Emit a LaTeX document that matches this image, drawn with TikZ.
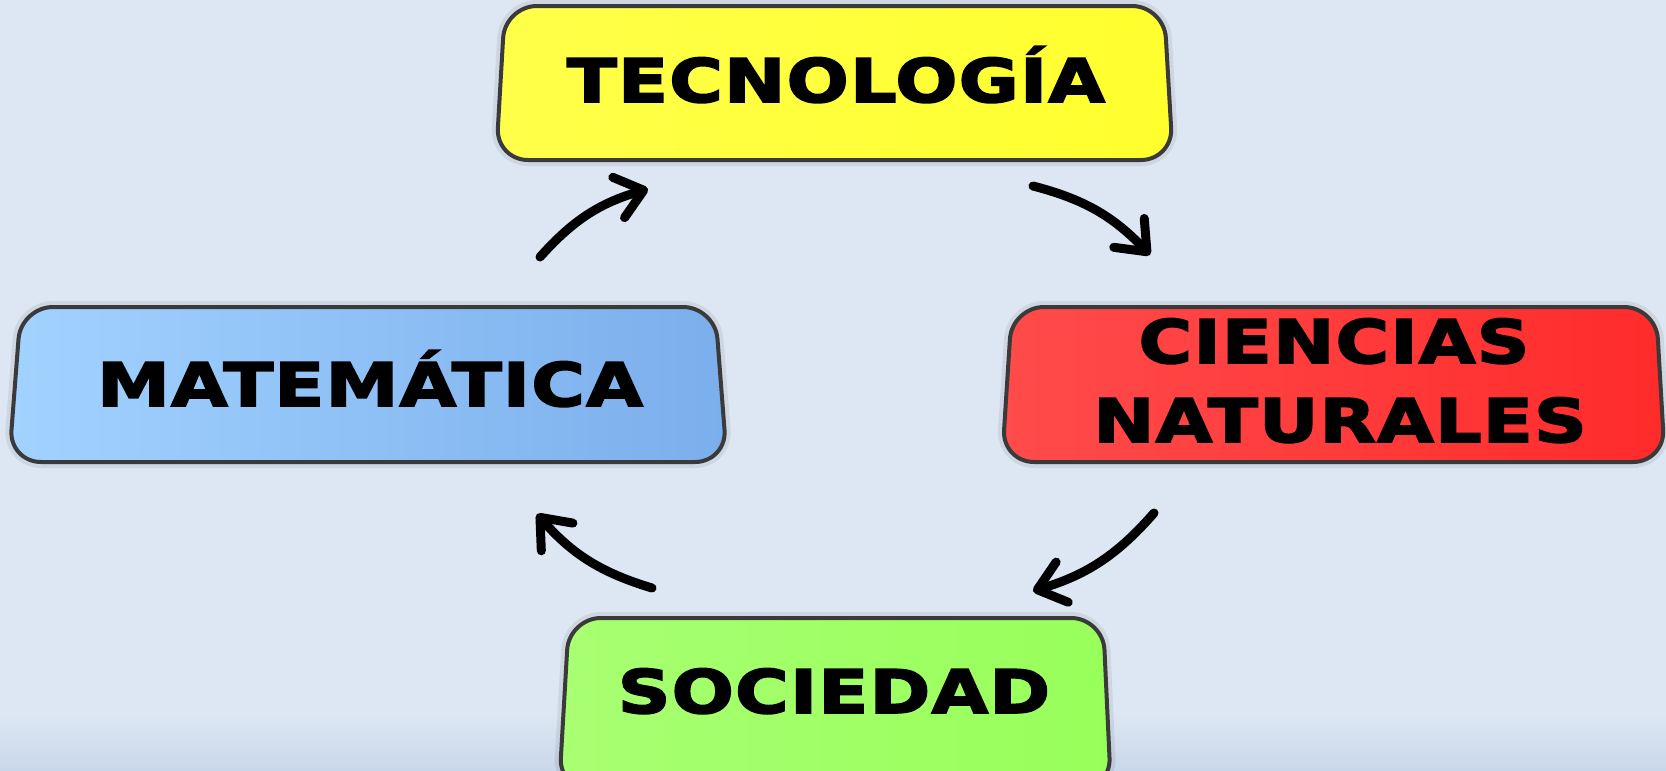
\documentclass[tikz,border=0pt]{standalone}
\usepackage{fontspec}
\usetikzlibrary{arrows.meta}
\newfontfamily\heavyfont[FakeStretch=1.22,FakeBold=3,LetterSpace=2]{DejaVu Sans Bold}
\definecolor{bgc}{HTML}{DDE7F3}
\definecolor{bgdark}{HTML}{C9D7EA}
\definecolor{edge}{HTML}{3A3A3A}
\definecolor{yelA}{HTML}{FFFF4A}
\definecolor{yelB}{HTML}{FFFF2E}
\definecolor{bluA}{HTML}{A2D2FF}
\definecolor{bluB}{HTML}{7BAEEC}
\definecolor{redA}{HTML}{FF4B4B}
\definecolor{redB}{HTML}{FF2B2B}
\definecolor{grnA}{HTML}{A8FF72}
\definecolor{grnB}{HTML}{98FF5A}
\tikzset{
  boxshape/.style={draw=edge, line width=4pt, rounded corners=32pt},
  boxshadow/.style={draw=black, draw opacity=0.07, line width=12pt, rounded corners=32pt},
  lbl/.style={font=\heavyfont\fontsize{60}{79}\selectfont, inner sep=0pt, text=black},
  flow/.style={line width=9pt, line cap=round, draw=black,
    -{Straight Barb[length=26pt,width=42pt,round]}, bend left=16},
}
\begin{document}
\begin{tikzpicture}[x=1pt,y=-1pt]
\useasboundingbox (0,0) rectangle (1666,771);
\fill[bgc] (0,0) rectangle (1666,771);
\shade[top color=bgc, bottom color=bgdark] (0,715) rectangle (1666,771);
\begin{scope}
\clip (0,0) rectangle (1666,771);
% shadows
\path[boxshadow] (505,6) -- (1164,6) -- (1173,160) -- (496,160) -- cycle;
\path[boxshadow] (21,307) -- (715,307) -- (727,462) -- (9,462) -- cycle;
\path[boxshadow] (1012,307) -- (1656,307) -- (1665,462) -- (1002,462) -- cycle;
\path[boxshadow] (569,618) -- (1103,618) -- (1111,790) -- (559,790) -- cycle;
% boxes
\path[boxshape, left color=yelA, right color=yelB] (505,6) -- (1164,6) -- (1173,160) -- (496,160) -- cycle;
\path[boxshape, left color=bluA, right color=bluB] (21,307) -- (715,307) -- (727,462) -- (9,462) -- cycle;
\path[boxshape, left color=redA, right color=redB] (1012,307) -- (1656,307) -- (1665,462) -- (1002,462) -- cycle;
\path[boxshape, left color=grnA, right color=grnB] (569,618) -- (1103,618) -- (1111,790) -- (559,790) -- cycle;
\end{scope}
% labels
\node[lbl, anchor=base] (tec) at (836,102) {TECNOLOGÍA};
\node[lbl, anchor=base] (mat) at (370,406) {MATEMÁTICA};
\node[lbl, anchor=base] (cn1) at (1334,363) {CIENCIAS};
\node[lbl, anchor=base] (cn2) at (1340,442) {NATURALES};
\node[lbl, anchor=base] (soc) at (834,713) {SOCIEDAD};
% arrow ends
\coordinate (a1s) at (540,257);
\coordinate (a1e) at (648,189);
\coordinate (a2s) at (1033,186);
\coordinate (a2e) at (1150,255);
\coordinate (a3s) at (1154,513);
\coordinate (a3e) at (1033,591);
\coordinate (a4s) at (652,588);
\coordinate (a4e) at (537,514);
\draw[flow] (a1s) to (a1e);
\draw[flow] (a2s) to (a2e);
\draw[flow] (a3s) to (a3e);
\draw[flow] (a4s) to (a4e);
\end{tikzpicture}
\end{document}
